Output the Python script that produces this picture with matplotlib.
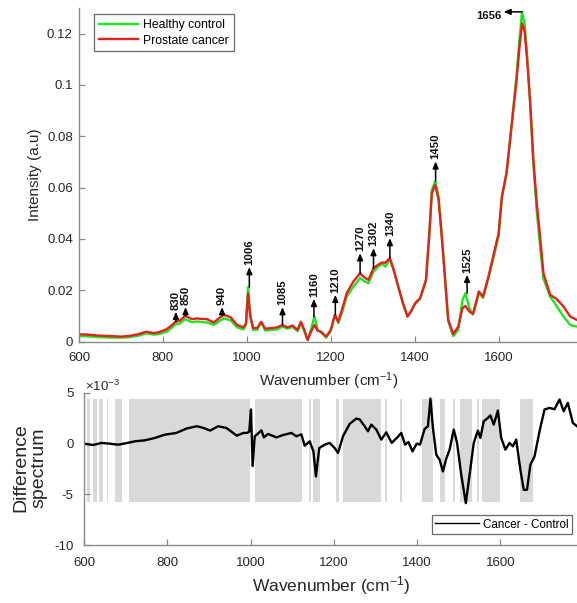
import matplotlib
matplotlib.use("Agg")
import matplotlib.pyplot as plt
from matplotlib.patches import Rectangle

plt.rcParams['font.family'] = ['Liberation Sans', 'DejaVu Sans']
plt.rcParams['mathtext.fontset'] = 'custom'
plt.rcParams['mathtext.rm'] = 'Liberation Sans'
plt.rcParams['mathtext.it'] = 'Liberation Sans:italic'

# ---------------- data ----------------
wavenumber = [600, 620, 640, 660, 680, 700, 720, 740, 760, 777, 790, 809, 820, 830, 840, 853,
              869, 881, 893, 905, 921, 933, 945, 961, 977, 992, 998, 1003, 1008, 1015, 1025,
              1034, 1044, 1058, 1072, 1085, 1097, 1109, 1121, 1129, 1137, 1145, 1153, 1161,
              1169, 1177, 1189, 1200, 1210, 1218, 1228, 1238, 1254, 1270, 1280, 1290, 1302,
              1312, 1322, 1330, 1341, 1350, 1361, 1372, 1383, 1392, 1401, 1413, 1427, 1435,
              1441, 1449, 1457, 1463, 1469, 1480, 1492, 1504, 1514, 1521, 1531, 1539, 1546,
              1553, 1563, 1576, 1588, 1600, 1608, 1619, 1631, 1643, 1650, 1656, 1662, 1668,
              1675, 1683, 1691, 1699, 1707, 1723, 1739, 1755, 1771, 1787]

prostate_cancer = [0.0028, 0.0027, 0.0024, 0.0022, 0.0021, 0.0019, 0.0022, 0.0028, 0.0038, 0.0033,
                   0.0036, 0.0048, 0.0062, 0.0077, 0.0081, 0.0100, 0.0087, 0.0090, 0.0088, 0.0087,
                   0.0074, 0.0090, 0.0104, 0.0095, 0.0064, 0.0055, 0.0070, 0.0188, 0.0100, 0.0052,
                   0.0053, 0.0077, 0.0050, 0.0052, 0.0055, 0.0064, 0.0055, 0.0062, 0.0045, 0.0077,
                   0.0045, 0.0006, 0.0038, 0.0064, 0.0042, 0.0038, 0.0019, 0.0045, 0.0104, 0.0077,
                   0.0130, 0.0188, 0.0234, 0.0266, 0.0250, 0.0240, 0.0286, 0.0298, 0.0308, 0.0307,
                   0.0325, 0.0280, 0.0214, 0.0150, 0.0097, 0.0120, 0.0149, 0.0169, 0.0240, 0.0420,
                   0.0579, 0.0611, 0.0553, 0.0440, 0.0318, 0.0084, 0.0029, 0.0058, 0.0130, 0.0139,
                   0.0116, 0.0108, 0.0150, 0.0195, 0.0175, 0.0253, 0.0338, 0.0420, 0.0566, 0.0657,
                   0.0839, 0.1021, 0.1150, 0.1240, 0.1210, 0.1100, 0.0940, 0.0710, 0.0540, 0.0410,
                   0.0266, 0.0182, 0.0165, 0.0136, 0.0097, 0.0084]

healthy_control = [0.0021, 0.0020, 0.0018, 0.0016, 0.0015, 0.0015, 0.0017, 0.0022, 0.0032, 0.0027,
                   0.0029, 0.0038, 0.0052, 0.0067, 0.0070, 0.0087, 0.0075, 0.0078, 0.0076, 0.0074,
                   0.0065, 0.0078, 0.0090, 0.0083, 0.0055, 0.0047, 0.0065, 0.0212, 0.0105, 0.0045,
                   0.0046, 0.0074, 0.0043, 0.0045, 0.0047, 0.0058, 0.0050, 0.0057, 0.0040, 0.0072,
                   0.0040, 0.0006, 0.0048, 0.0097, 0.0045, 0.0035, 0.0015, 0.0040, 0.0104, 0.0072,
                   0.0118, 0.0175, 0.0214, 0.0247, 0.0235, 0.0227, 0.0273, 0.0290, 0.0303, 0.0292,
                   0.0320, 0.0278, 0.0212, 0.0150, 0.0098, 0.0118, 0.0146, 0.0166, 0.0235, 0.0420,
                   0.0590, 0.0624, 0.0565, 0.0450, 0.0325, 0.0080, 0.0021, 0.0045, 0.0162, 0.0188,
                   0.0127, 0.0105, 0.0145, 0.0190, 0.0170, 0.0248, 0.0325, 0.0410, 0.0560, 0.0655,
                   0.0840, 0.1040, 0.1180, 0.1284, 0.1240, 0.1120, 0.0940, 0.0690, 0.0510, 0.0370,
                   0.0245, 0.0175, 0.0136, 0.0097, 0.0064, 0.0058]

peak_labels = [830, 850, 940, 1006, 1085, 1160, 1210, 1270, 1302, 1340, 1450, 1525]
peak_x = [831, 854, 941, 1006, 1085, 1160, 1211, 1270, 1302, 1341, 1450, 1525]
peak_base = [0.0077, 0.0100, 0.0104, 0.0212, 0.0064, 0.0097, 0.0104, 0.0266, 0.0286, 0.0325, 0.0624, 0.0188]
peak_tip = [0.0116, 0.0134, 0.0134, 0.0290, 0.0134, 0.0166, 0.0182, 0.0344, 0.0364, 0.0403, 0.0702, 0.0260]

diff_wavenumber = [600, 622, 642, 662, 682, 702, 722, 746, 770, 794, 822, 846, 871, 887, 903, 922,
                   942, 967, 983, 992, 997, 1001, 1005, 1010, 1018, 1026, 1032, 1042, 1062, 1078,
                   1098, 1110, 1122, 1130, 1142, 1151, 1157, 1165, 1178, 1190, 1202, 1210, 1222,
                   1238, 1254, 1262, 1274, 1282, 1290, 1302, 1314, 1326, 1339, 1351, 1362, 1371,
                   1379, 1389, 1399, 1407, 1418, 1426, 1432, 1438, 1446, 1454, 1462, 1470, 1478,
                   1488, 1496, 1506, 1517, 1526, 1536, 1546, 1552, 1560, 1570, 1576, 1584, 1594,
                   1602, 1612, 1622, 1630, 1638, 1648, 1656, 1664, 1672, 1682, 1694, 1706, 1718,
                   1730, 1742, 1752, 1762, 1774, 1784]
diff_values = [0.0, -0.13, 0.07, 0.0, -0.1, 0.05, 0.23, 0.33, 0.56, 0.89, 1.06, 1.49, 1.72, 1.55,
               1.29, 1.72, 1.55, 0.79, 1.06, 1.06, 1.2, 3.37, -2.2, 0.73, 1.0, 1.32, 0.62, 0.96,
               0.62, 0.85, 1.06, 0.73, 0.92, -0.2, 0.23, -0.76, -3.24, -0.43, -0.1, 0.07, -0.43,
               -0.92, 0.73, 1.95, 2.48, 2.4, 1.72, 1.22, 1.88, 1.39, 0.4, 1.12, 0.07, 0.56, 1.06,
               -0.1, 0.17, -0.76, 0.0, -0.1, 1.45, 1.72, 4.45, 1.55, -1.09, -1.58, -2.74, -1.48,
               -0.59, 1.39, 0.07, -3.07, -5.87, -3.07, 0.07, 1.29, 0.56, 2.21, 2.54, 2.8, 1.88,
               3.27, 0.56, -0.59, 0.07, -0.26, 0.4, -2.57, -4.55, -4.55, -2.08, -1.26, 1.22, 3.37,
               3.53, 3.4, 4.36, 3.2, 4.03, 2.05, 1.72]

band_starts = [607, 622, 636, 655, 674, 708, 1011, 1140, 1149, 1206, 1222, 1323, 1358, 1411,
               1456, 1485, 1503, 1543, 1557, 1648]
band_ends = [614, 631, 646, 658, 691, 999, 1124, 1144, 1167, 1212, 1313, 1328, 1363, 1437,
             1467, 1492, 1532, 1549, 1599, 1679]

# ---------------- figure ----------------
W, H = 577, 603
fig = plt.figure(figsize=(W / 100, H / 100), dpi=100)

spine_col = '#8a8a8a'
tick_col = '#262626'
green = '#1ee61e'
red = '#e3211d'

ax1 = fig.add_axes([79 / W, 1 - 341.5 / H, 1 - 79 / W, (341.5 - 8) / H])
ax1.plot(wavenumber, healthy_control, color=green, lw=1.7, label='Healthy control')
ax1.plot(wavenumber, prostate_cancer, color=red, lw=1.7, label='Prostate cancer')
ax1.set_xlim(600, 1787)
ax1.set_ylim(0, 0.130)
ax1.set_xticks([600, 800, 1000, 1200, 1400, 1600])
ax1.set_yticks([0, 0.02, 0.04, 0.06, 0.08, 0.1, 0.12])
ax1.set_yticklabels(['0', '0.02', '0.04', '0.06', '0.08', '0.1', '0.12'])

for lab, xv, b, t in zip(peak_labels, peak_x, peak_base, peak_tip):
    ax1.annotate('', xy=(xv, t), xytext=(xv, b),
                 arrowprops=dict(arrowstyle='-|>,head_length=0.4,head_width=0.17',
                                 color='black', lw=1.1, shrinkA=0, shrinkB=0))
    ax1.text(xv, t + 0.0008, str(lab), rotation=90, ha='center', va='bottom',
             fontsize=8.2, fontweight='bold', color='#111111')

ax1.annotate('', xy=(1612, 0.1285), xytext=(1656, 0.1285),
             arrowprops=dict(arrowstyle='-|>,head_length=0.4,head_width=0.17',
                             color='black', lw=1.1, shrinkA=0, shrinkB=0))
ax1.text(1606, 0.1268, '1656', ha='right', va='center', fontsize=8.2,
         fontweight='bold', color='#111111')

leg1 = ax1.legend(loc='upper left', bbox_to_anchor=(94 / W, 1 - 14 / H),
                  bbox_transform=fig.transFigure, fontsize=8.8, frameon=True,
                  fancybox=False, handlelength=3.2, borderpad=0.4, labelspacing=0.3,
                  handletextpad=0.4, borderaxespad=0)
leg1.get_frame().set_edgecolor('#444444')
leg1.get_frame().set_linewidth(0.9)

ax2 = fig.add_axes([84 / W, 1 - 545 / H, 1 - 84 / W, (545 - 393) / H])
for s, e in zip(band_starts, band_ends):
    ax2.add_patch(Rectangle((s, -5.8e-3), e - s, 10.2e-3, facecolor='#d9d9d9',
                            edgecolor='none', zorder=0))
ax2.plot(diff_wavenumber, [v * 1e-3 for v in diff_values], color='black', lw=1.7,
         label='Cancer - Control', zorder=2)
ax2.set_xlim(600, 1784)
ax2.set_ylim(-10e-3, 5e-3)
ax2.set_xticks([600, 800, 1000, 1200, 1400, 1600])
ax2.set_yticks([-10e-3, -5e-3, 0, 5e-3])
ax2.set_yticklabels(['-10', '-5', '0', '5'])
fig.text(85 / W, 1 - 386 / H, r'$\times$10$^{-3}$', fontsize=9.5, color=tick_col,
         ha='left', va='center')

leg2 = ax2.legend(loc='lower right', bbox_to_anchor=(572 / W, 1 - 534 / H),
                  bbox_transform=fig.transFigure, fontsize=8.4, frameon=True,
                  fancybox=False, handlelength=3.8, borderpad=0.3,
                  handletextpad=0.3, borderaxespad=0)
leg2.get_frame().set_edgecolor('#444444')
leg2.get_frame().set_linewidth(0.9)
for lh in leg2.get_lines():
    lh.set_linewidth(1.0)

for ax, xpad, ypad in ((ax1, 7.5, 4.5), (ax2, 8.5, 7.5)):
    for sp in ('top', 'right'):
        ax.spines[sp].set_visible(False)
    for sp in ('left', 'bottom'):
        ax.spines[sp].set_color(spine_col)
        ax.spines[sp].set_linewidth(1.0)
    ax.tick_params(direction='in', length=4, width=0.9, color=spine_col,
                   labelsize=9.5, labelcolor=tick_col)
    ax.tick_params(axis='x', pad=xpad)
    ax.tick_params(axis='y', pad=ypad)

fig.text(35 / W, 1 - 175 / H, 'Intensity (a.u)', rotation=90, ha='center',
         va='center', fontsize=11, color=tick_col)
fig.text(329 / W, 1 - 381 / H, 'Wavenumber (cm$^{-1}$)', ha='center', va='center',
         fontsize=11, color=tick_col)
fig.text(30 / W, 1 - 468 / H, 'Difference\nspectrum', rotation=90, ha='center',
         va='center', fontsize=14, color=tick_col, linespacing=1.1)
fig.text(331 / W, 1 - 586 / H, 'Wavenumber (cm$^{-1}$)', ha='center', va='center',
         fontsize=12.5, color=tick_col)

fig.savefig('out.png', dpi=100)
